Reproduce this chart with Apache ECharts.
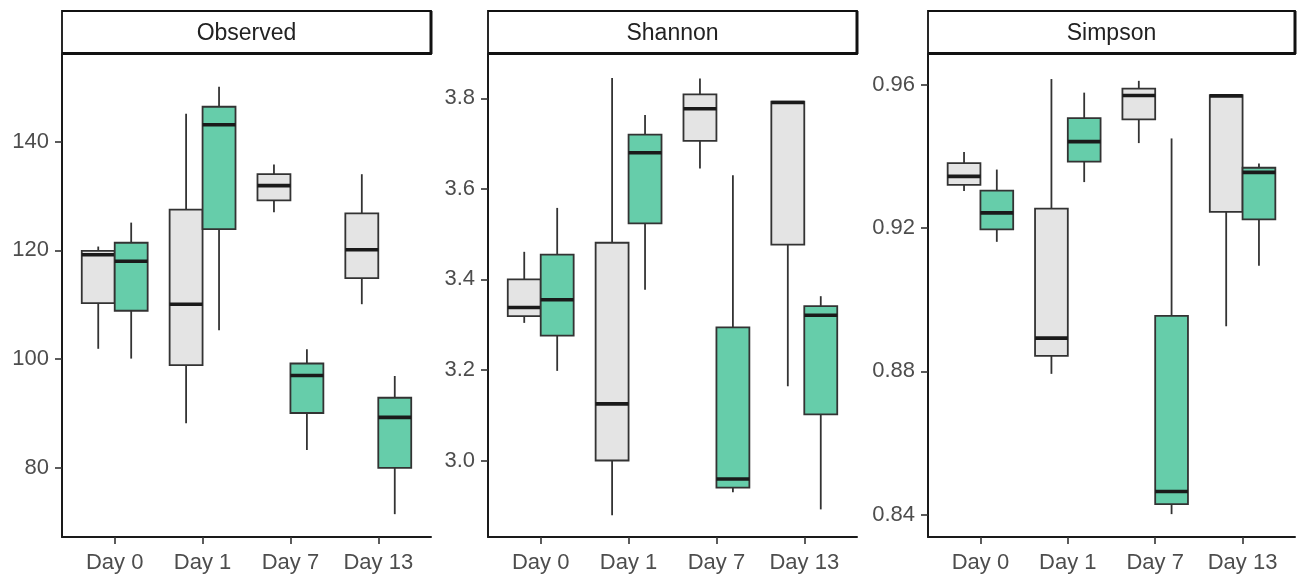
<!DOCTYPE html>
<html>
<head>
<meta charset="utf-8">
<script src="https://cdn.jsdelivr.net/npm/echarts@6/dist/echarts.min.js"></script>
<style>
  html, body { margin: 0; padding: 0; background: #ffffff; }
  #chart { width: 1298px; height: 577px; }
</style>
</head>
<body>
<div id="chart"></div>
<script>
// Alpha-diversity by sampling day, two groups per day.
const days = ['Day 0', 'Day 1', 'Day 7', 'Day 13'];
const panelTitles = ['Observed', 'Shannon', 'Simpson'];

// Each row: [lower whisker, Q1, median, Q3, upper whisker]
const observedGrey = [
  [101.9, 110.3, 119.2, 119.9, 120.7],
  [88.2, 98.9, 110.1, 127.5, 145.1],
  [127.0, 129.2, 131.9, 134.0, 135.8],
  [110.1, 114.9, 120.1, 126.8, 134.0]
];
const observedGreen = [
  [100.1, 108.9, 118.0, 121.4, 125.1],
  [105.3, 123.9, 143.1, 146.4, 150.1],
  [83.3, 90.1, 97.0, 99.2, 101.8],
  [71.5, 80.0, 89.3, 92.9, 96.9]
];
const shannonGrey = [
  [3.304, 3.319, 3.338, 3.400, 3.461],
  [2.879, 3.000, 3.125, 3.481, 3.845],
  [3.645, 3.706, 3.777, 3.809, 3.844],
  [3.164, 3.477, 3.791, 3.793, 3.793]
];
const shannonGreen = [
  [3.198, 3.276, 3.355, 3.455, 3.558],
  [3.377, 3.524, 3.680, 3.720, 3.763],
  [2.930, 2.940, 2.959, 3.294, 3.630],
  [2.892, 3.102, 3.321, 3.341, 3.363]
];
const simpsonGrey = [
  [0.9304, 0.9321, 0.9345, 0.9382, 0.9413],
  [0.8793, 0.8843, 0.8893, 0.9255, 0.9617],
  [0.9438, 0.9504, 0.9571, 0.9590, 0.9612],
  [0.8926, 0.9246, 0.9570, 0.9572, 0.9572]
];
const simpsonGreen = [
  [0.9162, 0.9197, 0.9243, 0.9305, 0.9364],
  [0.9329, 0.9386, 0.9442, 0.9508, 0.9579],
  [0.8401, 0.8429, 0.8464, 0.8955, 0.9451],
  [0.9095, 0.9225, 0.9356, 0.9369, 0.9381]
];

// Y-axis ticks and ranges per panel
const observedTicks = [80, 100, 120, 140];
const shannonTicks = [3.0, 3.2, 3.4, 3.6, 3.8];
const simpsonTicks = [0.84, 0.88, 0.92, 0.96];
const observedRange = [67.3, 156.1];
const shannonRange = [2.831, 3.898];
const simpsonRange = [0.8337, 0.9687];

const GREY_FILL = '#E4E4E4';
const GREEN_FILL = '#66CDAA';
const LINE = '#333333';
const MEDIAN = '#1A1A1A';
const BOX_W = 0.375;
const FONT = '"Liberation Sans", Arial, sans-serif';

const panels = [
  { grey: observedGrey, green: observedGreen, ticks: observedTicks, range: observedRange, dec: 0, left: 62, width: 369 },
  { grey: shannonGrey, green: shannonGreen, ticks: shannonTicks, range: shannonRange, dec: 1, left: 488, width: 369 },
  { grey: simpsonGrey, green: simpsonGreen, ticks: simpsonTicks, range: simpsonRange, dec: 2, left: 928, width: 367 }
];
const TOP = 54, HEIGHT = 483, STRIP_TOP = 11;

function toRows(stats) {
  return stats.map((s, i) => [i + 1].concat(s));
}

function boxRenderer(offset, fill) {
  return function (params, api) {
    const x = api.value(0) + offset;
    const lo = api.coord([x, api.value(1)]);
    const q1 = api.coord([x, api.value(2)]);
    const md = api.coord([x, api.value(3)]);
    const q3 = api.coord([x, api.value(4)]);
    const hi = api.coord([x, api.value(5)]);
    const w = api.size([BOX_W, 0])[0];
    const cx = lo[0];
    return {
      type: 'group',
      children: [
        { type: 'line', shape: { x1: cx, y1: hi[1], x2: cx, y2: q3[1] }, style: { stroke: LINE, lineWidth: 1.8 } },
        { type: 'line', shape: { x1: cx, y1: q1[1], x2: cx, y2: lo[1] }, style: { stroke: LINE, lineWidth: 1.8 } },
        { type: 'rect', shape: { x: cx - w / 2, y: q3[1], width: w, height: q1[1] - q3[1] }, style: { fill: fill, stroke: LINE, lineWidth: 1.8 } },
        { type: 'line', shape: { x1: cx - w / 2, y1: md[1], x2: cx + w / 2, y2: md[1] }, style: { stroke: MEDIAN, lineWidth: 3.6 } }
      ]
    };
  };
}

const grid = [], xAxis = [], yAxis = [], series = [], graphic = [];
panels.forEach((p, k) => {
  grid.push({ left: p.left, top: TOP, width: p.width, height: HEIGHT, containLabel: false });
  xAxis.push({
    type: 'value', gridIndex: k, min: 0.4, max: 4.6,
    splitLine: { show: false },
    axisLine: { show: true, onZero: false, lineStyle: { color: '#1A1A1A', width: 2 } },
    axisTick: { show: true, customValues: [1, 2, 3, 4], length: 7, lineStyle: { color: LINE, width: 1.6 } },
    axisLabel: {
      customValues: [1, 2, 3, 4], margin: 15,
      formatter: v => days[Math.round(v) - 1],
      color: '#4D4D4D', fontSize: 22, fontFamily: FONT
    }
  });
  yAxis.push({
    type: 'value', gridIndex: k, min: p.range[0], max: p.range[1],
    splitLine: { show: false },
    axisLine: { show: true, onZero: false, lineStyle: { color: '#1A1A1A', width: 2 } },
    axisTick: { show: true, customValues: p.ticks, length: 7, lineStyle: { color: LINE, width: 1.6 } },
    axisLabel: {
      customValues: p.ticks, margin: 13,
      formatter: v => Number(v).toFixed(p.dec),
      color: '#4D4D4D', fontSize: 22, fontFamily: FONT
    }
  });
  series.push({
    type: 'custom', xAxisIndex: k, yAxisIndex: k,
    renderItem: boxRenderer(-BOX_W / 2, GREY_FILL),
    data: toRows(p.grey), clip: false, silent: true
  });
  series.push({
    type: 'custom', xAxisIndex: k, yAxisIndex: k,
    renderItem: boxRenderer(BOX_W / 2, GREEN_FILL),
    data: toRows(p.green), clip: false, silent: true
  });
  // facet strip above each panel
  graphic.push({
    type: 'rect',
    shape: { x: p.left, y: STRIP_TOP, width: p.width, height: TOP - STRIP_TOP },
    style: { fill: '#ffffff', stroke: '#111111', lineWidth: 1.8 }
  });
  graphic.push({
    type: 'line',
    shape: { x1: p.left, y1: TOP - 0.5, x2: p.left + p.width, y2: TOP - 0.5 },
    style: { stroke: '#111111', lineWidth: 3 }
  });
  graphic.push({
    type: 'line',
    shape: { x1: p.left + p.width, y1: STRIP_TOP, x2: p.left + p.width, y2: TOP },
    style: { stroke: '#111111', lineWidth: 3 }
  });
  graphic.push({
    type: 'text',
    x: p.left + p.width / 2, y: (STRIP_TOP + TOP) / 2 + 1,
    style: {
      text: panelTitles[k], fill: '#222222', fontSize: 23, fontFamily: FONT,
      align: 'center', verticalAlign: 'middle'
    }
  });
});

const chart = echarts.init(document.getElementById('chart'), null, { renderer: 'canvas' });
chart.setOption({
  animation: false,
  backgroundColor: '#ffffff',
  grid, xAxis, yAxis, series, graphic
});
</script>
</body>
</html>
